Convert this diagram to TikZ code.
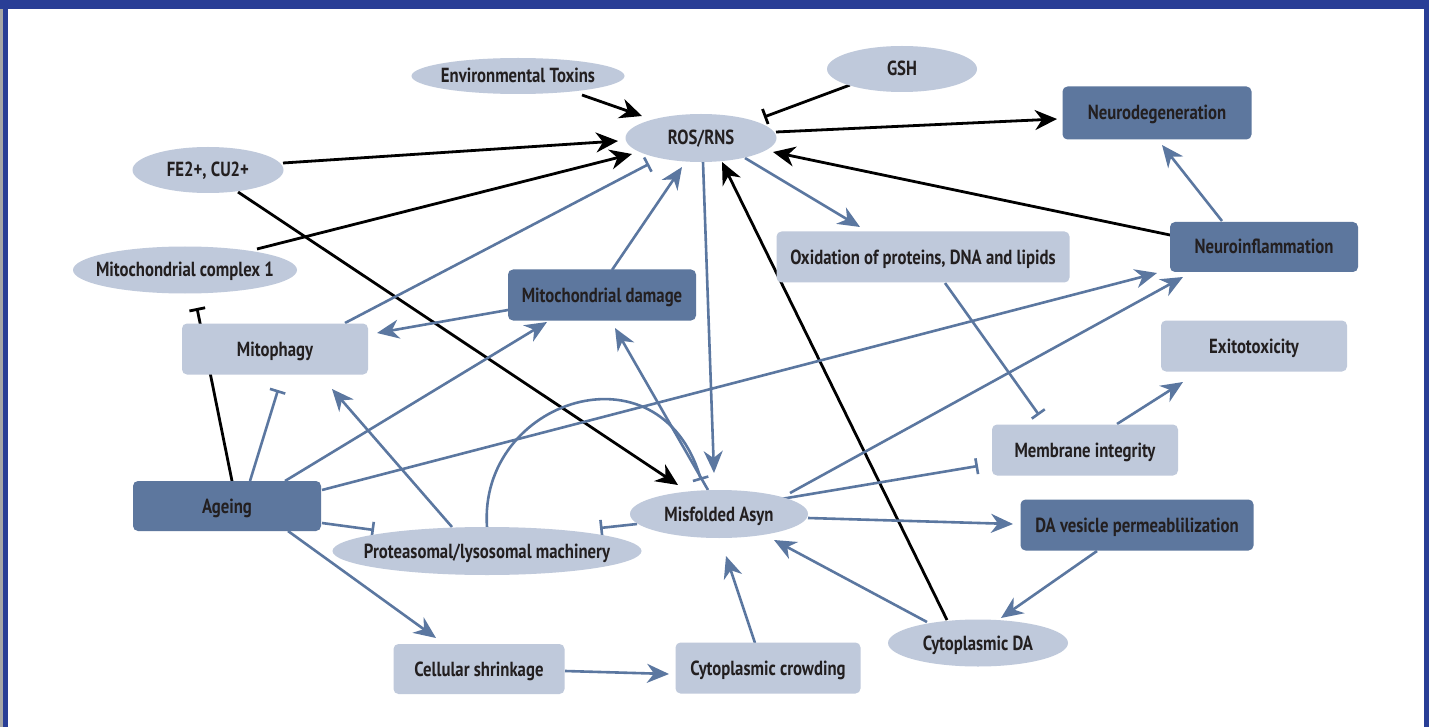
\documentclass[tikz,border=0pt]{standalone}
\usepackage{fontspec}
\setmainfont{PT Sans}[FakeStretch=0.82]
\usetikzlibrary{arrows.meta,shapes.geometric}
\definecolor{frameblue}{HTML}{293E96}
\definecolor{lightfill}{HTML}{BFC9DB}
\definecolor{darkfill}{HTML}{5D779E}
\definecolor{edgeblue}{HTML}{5B77A0}
\definecolor{txtcol}{HTML}{231F20}
\pgfdeclarelayer{bg}
\pgfsetlayers{bg,main}
\begin{document}
\begin{tikzpicture}[x=0.5pt,y=-0.5pt,
  every node/.style={font=\fontsize{10.2}{12}\selectfont\bfseries, text=txtcol, text height=7pt, text depth=0pt},
  lbox/.style={rectangle, rounded corners=2.5pt, fill=lightfill, inner sep=0pt},
  dbox/.style={rectangle, rounded corners=2.5pt, fill=darkfill, inner sep=0pt},
  ell/.style={ellipse, fill=lightfill, inner sep=-40pt},
  barr/.style={black, line width=1.4pt, -{Stealth[length=11pt,width=10pt,inset=3.5pt]}},
  bbar/.style={black, line width=1.4pt, -{Bar[width=8pt]}},
  harr/.style={edgeblue, line width=1.3pt, -{Stealth[length=11pt,width=9.5pt,inset=3.5pt]}},
  hbar/.style={edgeblue, line width=1.3pt, -{Bar[width=8pt]}}
]
\useasboundingbox (0,0) rectangle (1429,727);
\begin{pgfonlayer}{bg}
\fill[white] (0,0) rectangle (1429,727);
\fill[frameblue] (0,0) rectangle (1429,9);
\fill[gray!70] (0,9) rectangle (3,727);
\fill[frameblue] (3,9) rectangle (8,727);
\fill[frameblue] (1424,9) rectangle (1429,727);
\end{pgfonlayer}

% nodes
\node[ell, minimum width=106.5pt, minimum height=18pt] (env) at (518,76) {Environmental Toxins};
\node[ell, minimum width=75pt, minimum height=23pt] (gsh) at (902,69) {GSH};
\node[ell, minimum width=75.5pt, minimum height=24pt] (ros) at (701,138) {ROS/RNS};
\node[dbox, minimum width=94.5pt, minimum height=26.5pt] (neurodeg) at (1157,113) {Neurodegeneration};
\node[ell, minimum width=75.5pt, minimum height=23pt] (fe) at (208,170) {FE2+, CU2+};
\node[ell, minimum width=112pt, minimum height=23.5pt] (mc1) at (185,270) {Mitochondrial complex 1};
\node[lbox, minimum width=146.5pt, minimum height=25.5pt] (oxid) at (923,257) {Oxidation of proteins, DNA and lipids};
\node[dbox, minimum width=94pt, minimum height=25pt] (neuroinf) at (1264,247) {Neuroinflammation};
\node[dbox, minimum width=94pt, minimum height=25.5pt] (mdam) at (602,295) {Mitochondrial damage};
\node[lbox, minimum width=93pt, minimum height=25.5pt] (mitoph) at (275,349) {Mitophagy};
\node[lbox, minimum width=93pt, minimum height=25.5pt] (exito) at (1254,346) {Exitotoxicity};
\node[lbox, minimum width=93pt, minimum height=25.5pt] (memb) at (1085,450) {Membrane integrity};
\node[dbox, minimum width=94pt, minimum height=25pt] (ageing) at (227,506) {Ageing};
\node[ell, minimum width=154.5pt, minimum height=24pt] (prot) at (487,551) {Proteasomal/lysosomal machinery};
\node[ell, minimum width=89pt, minimum height=24pt] (mis) at (719,514) {Misfolded Asyn};
\node[dbox, minimum width=116.5pt, minimum height=25.5pt] (davp) at (1137,525) {DA vesicle permeablilization};
\node[lbox, minimum width=85.5pt, minimum height=25pt] (cshr) at (479,669) {Cellular shrinkage};
\node[lbox, minimum width=92.5pt, minimum height=25.5pt] (ccrowd) at (768,668) {Cytoplasmic crowding};
\node[ell, minimum width=90pt, minimum height=23.5pt] (cda) at (978,643) {Cytoplasmic DA};

\begin{pgfonlayer}{bg}
% black connectors
\draw[barr] ([shift={(64,19)}]env.center) -- ([shift={(-59,-22)}]ros.center);
\draw[bbar] ([shift={(-52,16)}]gsh.center) -- ([shift={(63,-21)}]ros.center);
\draw[barr] ([shift={(75,-7)}]fe.center) -- ([shift={(-83,3)}]ros.center);
\draw[barr] ([shift={(72,-21)}]mc1.center) -- ([shift={(-69,16)}]ros.center);
\draw[barr] ([shift={(75,-6)}]ros.center) -- ([shift={(-100,6)}]neurodeg.center);
\draw[barr] ([shift={(-94,-12)}]neuroinf.center) -- ([shift={(72,14)}]ros.center);
\draw[barr] ([shift={(30,22)}]fe.center) -- ([shift={(-41,-29)}]mis.center);
\draw[barr] ([shift={(-31,-23)}]cda.center) -- ([shift={(21,24)}]ros.center);
\draw[bbar] ([shift={(5,-25)}]ageing.center) -- ([shift={(12,38)}]mc1.center);
% blue connectors
\draw[hbar] ([shift={(70,-26)}]mitoph.center) -- ([shift={(-52,26)}]ros.center);
\draw[harr] ([shift={(10,-25)}]mdam.center) -- ([shift={(-19,29)}]ros.center);
\draw[harr] ([shift={(2,24)}]ros.center) -- ([shift={(-5,-41)}]mis.center);
\draw[harr] ([shift={(44,20)}]ros.center) -- ([shift={(-63,-30)}]oxid.center);
\draw[harr] ([shift={(-94,15)}]mdam.center) -- ([shift={(102,-16)}]mitoph.center);
\draw[harr] ([shift={(-42,-26)}]neuroinf.center) -- ([shift={(5,32)}]neurodeg.center);
\draw[hbar] ([shift={(23,-25)}]ageing.center) -- ([shift={(3,41)}]mitoph.center);
\draw[harr] ([shift={(58,-25)}]ageing.center) -- ([shift={(-55,27)}]mdam.center);
\draw[harr] ([shift={(95,-16)}]ageing.center) -- ([shift={(-107,26)}]neuroinf.center);
\draw[hbar] ([shift={(95,17)}]ageing.center) -- ([shift={(-113,-21)}]prot.center);
\draw[harr] ([shift={(61,25)}]ageing.center) -- ([shift={(-43,-31)}]cshr.center);
\draw[harr] ([shift={(-35,-24)}]prot.center) -- ([shift={(57,40)}]mitoph.center);
\draw[hbar] ([shift={(0,-24)}]prot.center) .. controls ([shift={(-9,-151)}]prot.center) and ([shift={(-59,-174)}]mis.center) .. ([shift={(-18,-34)}]mis.center);
\draw[harr] ([shift={(-11,-24)}]mis.center) -- ([shift={(13,33)}]mdam.center);
\draw[hbar] ([shift={(-82,10)}]mis.center) -- ([shift={(113,-23)}]prot.center);
\draw[hbar] ([shift={(56,-14)}]mis.center) -- ([shift={(-107,16)}]memb.center);
\draw[harr] ([shift={(71,-21)}]mis.center) -- ([shift={(-81,30)}]neuroinf.center);
\draw[harr] ([shift={(89,4)}]mis.center) -- ([shift={(-124,-1)}]davp.center);
\draw[hbar] ([shift={(22,26)}]oxid.center) -- ([shift={(-46,-35)}]memb.center);
\draw[harr] ([shift={(32,-26)}]memb.center) -- ([shift={(-71,36)}]exito.center);
\draw[harr] ([shift={(-40,26)}]davp.center) -- ([shift={(23,-25)}]cda.center);
\draw[harr] ([shift={(-51,-21)}]cda.center) -- ([shift={(55,26)}]mis.center);
\draw[harr] ([shift={(-13,-25)}]ccrowd.center) -- ([shift={(7,42)}]mis.center);
\draw[harr] ([shift={(86,2)}]cshr.center) -- ([shift={(-99,6)}]ccrowd.center);
\end{pgfonlayer}
\end{tikzpicture}
\end{document}
